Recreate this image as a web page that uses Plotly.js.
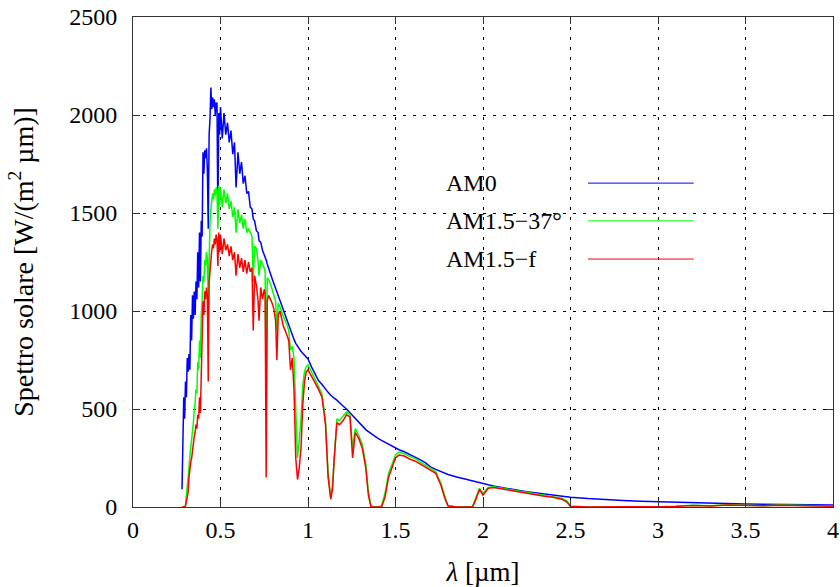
<!DOCTYPE html>
<html>
<head>
<meta charset="utf-8">
<script src="https://cdn.plot.ly/plotly-3.0.1.min.js"></script>
<style>html,body{margin:0;padding:0;background:#fff;}#chart{width:840px;height:587px;}</style>
</head>
<body>
<div id="chart"></div>
<script>
// Wavelength grid (µm)
const wavelength = [
  0.280, 0.285, 0.290, 0.295, 0.300, 0.305, 0.310, 0.315, 0.320, 0.325,
  0.330, 0.335, 0.340, 0.345, 0.350, 0.355, 0.360, 0.365, 0.370, 0.375,
  0.380, 0.385, 0.390, 0.395, 0.400, 0.405, 0.410, 0.415, 0.420, 0.425,
  0.430, 0.435, 0.440, 0.445, 0.450, 0.455, 0.460, 0.465, 0.470, 0.475,
  0.480, 0.485, 0.490, 0.495, 0.500, 0.510, 0.520, 0.530, 0.540, 0.550,
  0.560, 0.570, 0.580, 0.589, 0.600, 0.610, 0.620, 0.630, 0.640, 0.650,
  0.660, 0.670, 0.680, 0.687, 0.695, 0.705, 0.715, 0.720, 0.730, 0.740,
  0.750, 0.755, 0.761, 0.767, 0.775, 0.785, 0.795, 0.805, 0.815, 0.822,
  0.830, 0.840, 0.850, 0.860, 0.870, 0.880, 0.890, 0.900, 0.910, 0.920,
  0.930, 0.940, 0.950, 0.960, 0.970, 0.980, 0.990, 1.000, 1.020, 1.040,
  1.060, 1.080, 1.100, 1.115, 1.130, 1.140, 1.150, 1.165, 1.180, 1.200,
  1.220, 1.240, 1.255, 1.270, 1.290, 1.310, 1.330, 1.345, 1.360, 1.380,
  1.400, 1.420, 1.440, 1.460, 1.480, 1.500, 1.520, 1.550, 1.580, 1.610,
  1.640, 1.670, 1.700, 1.730, 1.760, 1.780, 1.800, 1.850, 1.900, 1.940,
  1.960, 1.980, 2.000, 2.030, 2.060, 2.100, 2.150, 2.200, 2.250, 2.300,
  2.350, 2.400, 2.450, 2.480, 2.500, 2.600, 2.700, 2.800, 2.900, 3.000,
  3.100, 3.200, 3.300, 3.400, 3.500, 3.600, 3.700, 3.800, 3.900, 4.000
];

// AM0 spectrum, W/(m^2 µm)
const am0 = [
  90, 280, 560, 450, 640, 560, 760, 690, 780, 700,
  980, 850, 1080, 960, 1100, 980, 1150, 1060, 1300, 1120,
  1400, 1150, 1460, 1380, 1810, 1700, 1820, 1780, 1830, 1720,
  1420, 1900, 1980, 2140, 2030, 2090, 2040, 2080, 2000, 2060,
  2060, 1470, 2010, 1900, 2040, 1880, 2010, 1900, 1960, 1860,
  1920, 1800, 1860, 1630, 1810, 1700, 1760, 1650, 1690, 1600,
  1610, 1530, 1520, 1470, 1460, 1410, 1400, 1360, 1350, 1310,
  1290, 1275, 1260, 1240, 1215, 1190, 1165, 1140, 1115, 1095,
  1075, 1050, 1020, 995, 970, 945, 920, 895, 875, 855,
  835, 820, 805, 795, 785, 775, 765, 755, 715, 680,
  645, 625, 600, 585, 570, 560, 555, 545, 530, 515,
  500, 480, 465, 450, 430, 410, 395, 385, 375, 360,
  350, 340, 330, 320, 310, 300, 292, 282, 270, 258,
  242, 226, 205, 192, 180, 173, 166, 153, 141, 133,
  128, 124, 120, 113, 107, 100, 92, 85, 78, 72,
  65, 60, 55, 52, 50, 43, 37, 33, 29, 26,
  23, 21, 19, 17, 15, 14, 13, 12, 11, 10
];

// AM1.5 - 37° (global tilt)
const am15g = [
  0, 0, 0, 0, 10, 50, 100, 130, 200, 260,
  300, 330, 400, 430, 500, 530, 600, 580, 740, 700,
  850, 760, 980, 1050, 1180, 1150, 1260, 1230, 1300, 1270,
  1050, 1380, 1450, 1520, 1560, 1600, 1570, 1620, 1590, 1630,
  1610, 1420, 1640, 1540, 1630, 1530, 1620, 1550, 1600, 1520,
  1560, 1480, 1530, 1400, 1520, 1450, 1490, 1420, 1470, 1400,
  1420, 1400, 1380, 1150, 1330, 1320, 1250, 1180, 1260, 1240,
  1220, 1200, 600, 1170, 1160, 1140, 1110, 1090, 1050, 900,
  1040, 1020, 990, 970, 950, 930, 900, 800, 820, 760,
  500, 250, 340, 450, 620, 690, 715, 725, 690, 655,
  615, 575, 440, 170, 50, 110, 270, 450, 440, 460,
  485, 470, 300, 400, 365, 320, 220, 80, 5, 0,
  0, 5, 70, 170, 215, 265, 280, 272, 258, 248,
  230, 215, 198, 180, 120, 60, 8, 0, 0, 2,
  50, 95, 70, 100, 103, 97, 89, 82, 72, 65,
  60, 52, 45, 30, 5, 0, 0, 0, 0, 1,
  4, 9, 6, 11, 9, 7, 10, 8, 6, 5
];

// AM1.5 - f
const am15f = [
  0, 0, 0, 0, 5, 30, 60, 75, 150, 200,
  230, 250, 300, 330, 360, 380, 420, 400, 470, 450,
  560, 480, 700, 850, 1050, 980, 1100, 1060, 1120, 1080,
  640, 1150, 1220, 1260, 1310, 1340, 1320, 1370, 1340, 1390,
  1370, 1230, 1400, 1300, 1390, 1290, 1370, 1310, 1340, 1280,
  1330, 1260, 1300, 1180, 1290, 1220, 1270, 1200, 1260, 1190,
  1250, 1200, 1220, 900, 1180, 1130, 1050, 950, 1120, 1060,
  1110, 1090, 150, 1050, 1080, 1060, 1040, 1010, 950, 750,
  980, 1000, 950, 920, 900, 870, 850, 700, 760, 600,
  250, 140, 200, 300, 520, 640, 690, 700, 670, 635,
  600, 560, 420, 150, 40, 90, 250, 430, 420, 440,
  470, 460, 250, 380, 350, 300, 200, 60, 0, 0,
  0, 0, 50, 150, 200, 250, 265, 260, 245, 235,
  220, 205, 188, 172, 110, 50, 5, 0, 0, 0,
  40, 90, 60, 95, 100, 94, 86, 78, 68, 60,
  55, 50, 40, 25, 3, 0, 0, 0, 0, 0,
  3, 8, 5, 10, 8, 6, 9, 7, 5, 4
];

const seriesNames = ["AM0", "AM1.5\u221237\u00b0", "AM1.5\u2212f"];
const seriesColors = ["#0000ff", "#00ff00", "#ff0000"];
const seriesData = [am0, am15g, am15f];

const FONT = "Liberation Serif";

const traces = seriesData.map((ys, i) => ({
  type: "scatter",
  mode: "lines",
  x: wavelength,
  y: ys,
  name: seriesNames[i],
  line: { color: seriesColors[i], width: 1.5 },
  showlegend: false,
  hoverinfo: "skip"
}));

// manual legend (text left, line sample right), in paper coordinates
const legendY = [0.661, 0.584, 0.506];
const annotations = seriesNames.map((n, i) => ({
  xref: "paper", yref: "paper", x: 0.444, y: legendY[i],
  xanchor: "left", yanchor: "middle", showarrow: false,
  text: n, font: { family: FONT, size: 24, color: "#000" }
}));
const shapes = seriesNames.map((n, i) => ({
  type: "line", xref: "paper", yref: "paper",
  x0: 0.65, x1: 0.801, y0: legendY[i], y1: legendY[i],
  line: { color: seriesColors[i], width: 1 }
}));

const axisCommon = {
  showline: true, linecolor: "#333", linewidth: 1, mirror: "ticks",
  ticks: "inside", tickcolor: "#333", ticklen: 7, tickwidth: 1,
  showgrid: true, gridcolor: "#000", gridwidth: 1, griddash: "3px,7px",
  zeroline: false,
  tickfont: { family: FONT, size: 24, color: "#000" }
};

const layout = {
  width: 840, height: 587,
  margin: { l: 133, r: 7, t: 17, b: 80 },
  paper_bgcolor: "#fff", plot_bgcolor: "#fff",
  font: { family: FONT, size: 24, color: "#000" },
  xaxis: Object.assign({}, axisCommon, {
    range: [0, 4], tick0: 0, dtick: 0.5,
    ticklabelstandoff: 1,
    title: { text: "<i>λ</i> [µm]", font: { family: FONT, size: 27, color: "#000" }, standoff: 25 }
  }),
  yaxis: Object.assign({}, axisCommon, {
    range: [0, 2500], tick0: 0, dtick: 500,
    ticklabelstandoff: 10,
    title: { text: "Spettro solare [W/(m<sup>2</sup> µm)]", font: { family: FONT, size: 28, color: "#000" }, standoff: 27 }
  }),
  annotations: annotations,
  shapes: shapes
};

Plotly.newPlot("chart", traces, layout, { staticPlot: true, displayModeBar: false });
</script>
</body>
</html>
